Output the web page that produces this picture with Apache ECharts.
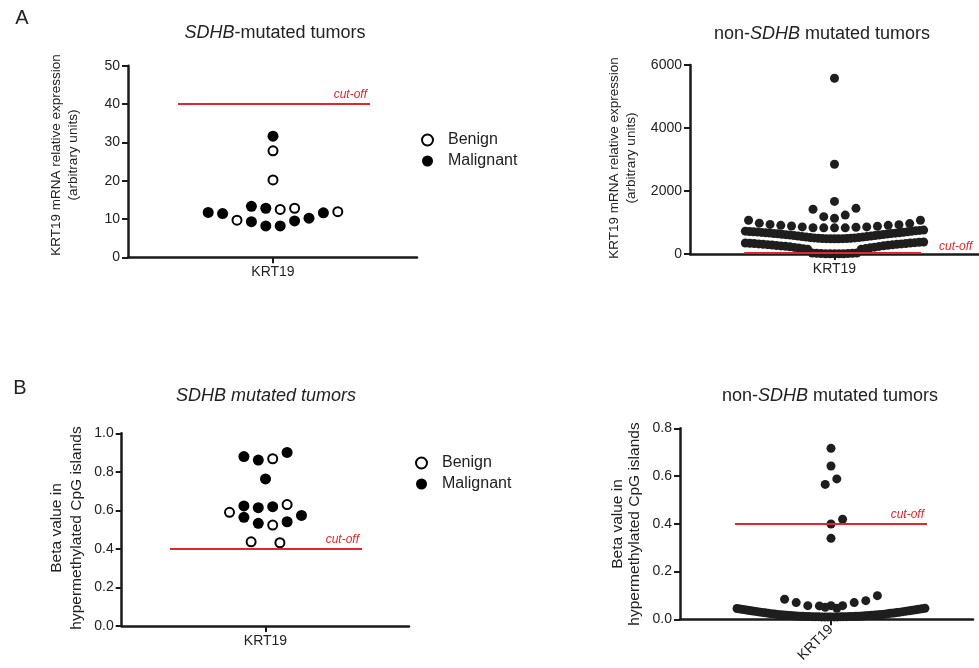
<!DOCTYPE html>
<html>
<head>
<meta charset="utf-8">
<title>KRT19</title>
<script src="https://cdn.jsdelivr.net/npm/echarts@6/dist/echarts.min.js"></script>
<style>
  html, body { margin: 0; padding: 0; background: #fff; }
  #chart { width: 979px; height: 668px; }
</style>
</head>
<body>
<div id="chart"></div>
<script>
// values, each row listed left to right as drawn (null = empty slot)
// M = malignant (filled), B = benign (open)
const sdhbExprRows = [
  [['M', 31.6]],
  [['B', 27.8]],
  [['B', 20.2]],
  [['M', 11.7], ['M', 11.4], ['B', 9.7], ['M', 13.3], ['M', 12.8], ['B', 12.5], ['B', 12.8], ['M', 10.2], ['M', 11.6], ['B', 11.9]],
  [['M', 9.3], ['M', 8.2], ['M', 8.2], ['M', 9.5]]
];

const nonSdhbExprRows = [
  [5580],
  [2850],
  [1670],
  [1420, 1185, 1135, 1235, 1450],
  [1070, 980, 940, 910, 890, 860, 835, 830, 830, 830, 850, 860, 880, 910, 930, 965, 1070],
  [725, 715, 705, 695, 685, 675, 665, 652, 640, 628, 615, 600, 585, 568, 552, 536, 522, 510, 500, 493, 488, 485,
   483,
   485, 488, 493, 500, 510, 522, 536, 552, 568, 585, 602, 618, 633, 648, 662, 676, 690, 705, 720, 735, 748, 760],
  [350, 340, 330, 320, 308, 296, 284, 270, 256, 244, 228, 210, 190, 168, 148,
   30, 20, 12, 8, 5, 4, 5, 8, 12, 20, 30,
   150, 172, 195, 218, 240, 258, 276, 292, 307, 320, 334, 348, 360, 372, 382]
];

const sdhbBetaRows = [
  [['M', 0.879], ['M', 0.861], ['B', 0.868], ['M', 0.901]],
  [['M', 0.763]],
  [['B', 0.590], ['M', 0.623], ['M', 0.614], ['M', 0.619], ['B', 0.630], ['M', 0.574]],
  [['M', 0.564], ['M', 0.533], ['B', 0.524], ['M', 0.541]],
  [['B', 0.437], null, ['B', 0.432]]
];

const nonSdhbBetaRows = [
  [0.716],
  [0.642],
  [0.565, 0.588],
  [null, 0.399, 0.419],
  [0.339],
  [0.084, 0.070, 0.057, 0.056, 0.057, 0.057, 0.070, 0.078, 0.099],
  [0.050, 0.046],
  [0.045, 0.043, 0.041, 0.039, 0.037, 0.035, 0.033, 0.031, 0.029, 0.027, 0.025, 0.023, 0.022, 0.020, 0.019,
   0.018, 0.017, 0.016, 0.015, 0.014, 0.013, 0.013, 0.012, 0.012, 0.011, 0.011, 0.011, 0.010, 0.010, 0.010,
   0.010,
   0.010, 0.010, 0.011, 0.011, 0.011, 0.012, 0.012, 0.013, 0.013, 0.014, 0.015, 0.016, 0.017, 0.018, 0.019,
   0.020, 0.021, 0.023, 0.025, 0.026, 0.028, 0.030, 0.032, 0.034, 0.036, 0.038, 0.040, 0.042, 0.044, 0.046]
];

const exprCutoff = 40;
const betaCutoff = 0.4;
const categoryLabel = 'KRT19';

const FONT = '"Liberation Sans", Arial, sans-serif';
const RED = '#e3262d';
const AXIS = '#1a1a1a';
const TEXT = '#222';

// layout of the four panels (pixels); x axis is counted in dot slots
const panels = [
  { rows: sdhbExprRows, typed: true, grid: { left: 128, top: 65.7, width: 289, height: 191.6 },
    center: 273, step: 14.4, span: 12, y: [0, 50, 10], cutoff: exprCutoff, cut: [178, 370], cutPos: 'insideEndTop' },
  { rows: nonSdhbExprRows, grid: { left: 690, top: 65, width: 304, height: 189 },
    center: 842, step: 11.3, span: 16.6, y: [0, 6000, 2000], cutoff: exprCutoff, cut: [747, 933], cutPos: 'end' },
  { rows: sdhbBetaRows, typed: true, grid: { left: 121.7, top: 433.3, width: 287.3, height: 192.7 },
    center: 265.5, step: 14.4, span: 12, y: [0, 1, 0.2], cutoff: betaCutoff, cut: [170, 362], cutPos: 'insideEndTop', fixed: 1 },
  { rows: nonSdhbBetaRows, grid: { left: 680, top: 428.3, width: 293, height: 191 },
    center: 831, step: 11.6, span: 16.2, y: [0, 0.8, 0.2], cutoff: betaCutoff, cut: [735, 927], cutPos: 'insideEndTop', fixed: 1, rotate: 45 }
];

// spread each row around the centre, squeezing rows that are too wide
function swarm(rows, span) {
  const pts = [];
  rows.forEach(row => {
    const n = row.length;
    const gap = n > 1 ? Math.min(1, span / (n - 1)) : 1;
    row.forEach((it, i) => {
      if (it === null) return;
      pts.push([(i - (n - 1) / 2) * gap, it]);
    });
  });
  return pts;
}

const grids = [], xAxes = [], yAxes = [], series = [];

panels.forEach((p, i) => {
  grids.push(p.grid);
  const g = p.grid;
  xAxes.push({
    gridIndex: i, type: 'value',
    min: -(p.center - g.left) / p.step,
    max: (g.left + g.width - p.center) / p.step,
    axisLine: { onZero: false, lineStyle: { color: AXIS, width: 2.5 } },
    axisTick: { show: true, customValues: [0], length: 6, lineStyle: { color: AXIS, width: 2 } },
    axisLabel: { customValues: [0], formatter: () => categoryLabel, fontSize: 14, color: TEXT,
                 fontFamily: FONT, margin: 8, rotate: p.rotate || 0 },
    splitLine: { show: false }
  });
  yAxes.push({
    gridIndex: i, type: 'value', min: p.y[0], max: p.y[1], interval: p.y[2],
    axisLine: { show: true, onZero: false, lineStyle: { color: AXIS, width: 2.5 } },
    axisTick: { show: true, length: 6, lineStyle: { color: AXIS, width: 2 } },
    axisLabel: { fontSize: 14, color: TEXT, fontFamily: FONT, margin: 8,
                 formatter: v => p.fixed ? v.toFixed(p.fixed) : String(v) },
    splitLine: { show: false }
  });

  const atEnd = p.cutPos === 'end';
  const markLine = {
    symbol: 'none', silent: true, z: 6,
    lineStyle: { color: RED, width: 2, type: 'solid' },
    label: Object.assign({
      show: true, formatter: 'cut-off', position: p.cutPos, color: RED,
      fontStyle: 'italic', fontSize: 12, fontFamily: FONT,
      distance: atEnd ? 18 : 3
    }, atEnd ? { verticalAlign: 'bottom', align: 'left' } : {}),
    data: [[{ coord: [(p.cut[0] - p.center) / p.step, p.cutoff] },
            { coord: [(p.cut[1] - p.center) / p.step, p.cutoff] }]]
  };

  const pts = swarm(p.rows, p.span);
  if (p.typed) {
    series.push({
      type: 'scatter', name: 'Malignant', xAxisIndex: i, yAxisIndex: i, clip: false,
      symbolSize: 11, itemStyle: { color: '#000', opacity: 1 },
      data: pts.filter(d => d[1][0] === 'M').map(d => [d[0], d[1][1]])
    });
    series.push({
      type: 'scatter', name: 'Benign', xAxisIndex: i, yAxisIndex: i, clip: false,
      symbolSize: 9, itemStyle: { color: '#fff', borderColor: '#000', borderWidth: 2, opacity: 1 },
      data: pts.filter(d => d[1][0] === 'B').map(d => [d[0], d[1][1]]),
      markLine: markLine
    });
  } else {
    series.push({
      type: 'scatter', name: categoryLabel, xAxisIndex: i, yAxisIndex: i, clip: false,
      symbolSize: 9, itemStyle: { color: '#1e1e1e', opacity: 1 },
      data: pts, markLine: markLine
    });
  }
});

function legendAt(left, top) {
  return {
    orient: 'vertical', left: left, top: top, itemWidth: 11, itemHeight: 11, itemGap: 5,
    icon: 'circle', selectedMode: false,
    textStyle: { fontSize: 16, color: TEXT, fontFamily: FONT, padding: [0, 0, 0, 10] },
    data: [
      { name: 'Benign', itemStyle: { color: '#fff', borderColor: '#000', borderWidth: 2 } },
      { name: 'Malignant', itemStyle: { color: '#000' } }
    ]
  };
}

function txt(x, y, text, size, extra) {
  return Object.assign({
    type: 'text', x: x, y: y,
    style: Object.assign({
      text: text, fill: TEXT, fontSize: size, fontFamily: FONT,
      align: 'center', verticalAlign: 'middle', textAlign: 'center', textVerticalAlign: 'middle'
    }, extra && extra.style)
  }, extra && extra.el);
}

const rich = s => ({ i: { fontStyle: 'italic', fontSize: s, fontFamily: FONT, fill: TEXT, color: TEXT },
                     r: { fontSize: s, fontFamily: FONT, fill: TEXT, color: TEXT } });

const graphics = [
  txt(22, 18, 'A', 20),
  txt(20, 388, 'B', 20),
  txt(275, 33, '{i|SDHB}{r|-mutated tumors}', 18, { style: { rich: rich(18) } }),
  txt(822, 34, '{r|non-}{i|SDHB}{r| mutated tumors}', 18, { style: { rich: rich(18) } }),
  txt(266, 396, '{i|SDHB mutated tumors}', 18, { style: { rich: rich(18) } }),
  txt(830, 396, '{r|non-}{i|SDHB}{r| mutated tumors}', 18, { style: { rich: rich(18) } }),
  txt(65, 155, 'KRT19 mRNA relative expression\n(arbitrary units)', 13.5,
      { style: { lineHeight: 16.5 }, el: { rotation: Math.PI / 2 } }),
  txt(623, 158, 'KRT19 mRNA relative expression\n(arbitrary units)', 13.5,
      { style: { lineHeight: 17 }, el: { rotation: Math.PI / 2 } }),
  txt(67, 528, 'Beta value in\nhypermethylated CpG islands', 15.5,
      { style: { lineHeight: 20 }, el: { rotation: Math.PI / 2 } }),
  txt(626, 524, 'Beta value in\nhypermethylated CpG islands', 15.5,
      { style: { lineHeight: 16.5 }, el: { rotation: Math.PI / 2 } })
];

const chart = echarts.init(document.getElementById('chart'), null, { renderer: 'canvas' });
chart.setOption({
  animation: false,
  backgroundColor: '#fff',
  grid: grids,
  xAxis: xAxes,
  yAxis: yAxes,
  legend: [legendAt(416, 127), legendAt(410, 450)],
  graphic: graphics,
  series: series
});
</script>
</body>
</html>
